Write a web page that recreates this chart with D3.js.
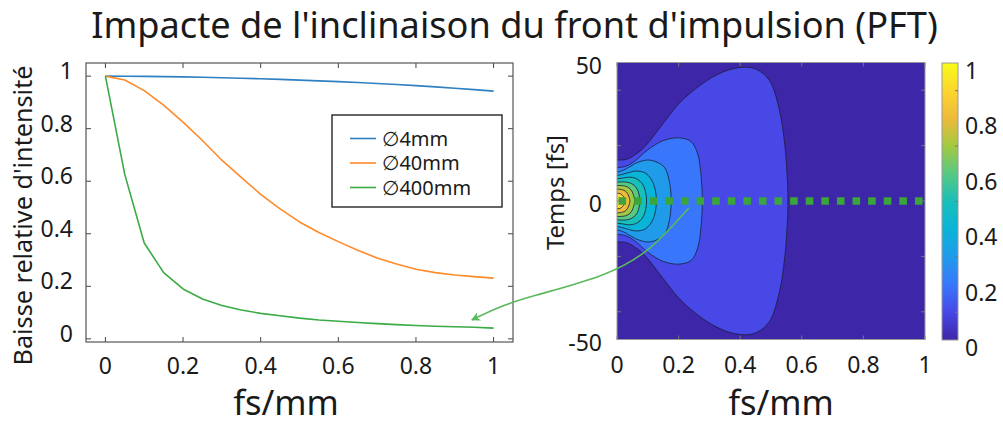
<!DOCTYPE html>
<html><head><meta charset="utf-8">
<script src="https://cdn.jsdelivr.net/npm/d3@7"></script>
<style>body{margin:0;background:#fff;overflow:hidden} text{font-family:"Noto Sans","DejaVu Sans",sans-serif;fill:#1a1a1a}</style>
</head><body><svg id="c" width="1003" height="423"></svg>
<script>
// ---------- data ----------
const xValues   = [0,0.05,0.1,0.15,0.2,0.25,0.3,0.35,0.4,0.45,0.5,0.55,0.6,0.65,0.7,0.75,0.8,0.85,0.9,0.95,1];
const series4mm   = [1,0.9998,0.999,0.998,0.997,0.9955,0.994,0.992,0.99,0.9875,0.985,0.982,0.979,0.9755,0.972,0.968,0.964,0.959,0.954,0.9485,0.943];
const series40mm  = [1,0.985,0.945,0.89,0.825,0.755,0.68,0.615,0.55,0.495,0.445,0.405,0.37,0.337,0.308,0.285,0.265,0.252,0.243,0.237,0.231];
const series400mm = [1,0.625,0.365,0.252,0.19,0.152,0.127,0.11,0.097,0.088,0.079,0.072,0.067,0.062,0.058,0.054,0.051,0.048,0.046,0.044,0.041];
const seriesNames  = ["\u22054mm","\u220540mm","\u2205400mm"];
const seriesColors = ["#2f7fc1","#ff8a2a","#3aab45"];
const xTicks = [0,0.2,0.4,0.6,0.8,1];
const yTicksLeft = [0,0.2,0.4,0.6,0.8,1];
const tTickLabels = [-50,0,50];
const tTickMarks = [-40,-20,0,20,40];
const cbTicks = [0,0.2,0.4,0.6,0.8,1];
const cbTickMarks = [0.1,0.3,0.5,0.7,0.9];
// contour outlines (upper half, symmetric in time): [fs/mm, fs]
const contourLevels = [0.1,0.2,0.3,0.4,0.5,0.6,0.7,0.8,0.9];
const outline01 = [[0,14.8],[0.03,15],[0.06,16.8],[0.09,19.6],[0.15,28],[0.2,35],[0.255,40.5],[0.31,44.7],[0.365,47.4],[0.42,48.3],[0.455,47.4],[0.495,43.5],[0.527,33],[0.545,20],[0.553,8],[0.555,0]];
const outline02 = [[0,12],[0.03,12.6],[0.06,14.6],[0.1,18.5],[0.15,21.8],[0.2,22.8],[0.24,21.5],[0.262,17],[0.273,9],[0.277,0]];
const outline03 = [[0,10.4],[0.03,11.6],[0.06,13.6],[0.1,14.8],[0.13,14],[0.155,12],[0.17,7],[0.176,0]];
const outline04 = [[0,9.2],[0.03,10],[0.06,10.8],[0.09,10.2],[0.11,8],[0.122,5],[0.128,0]];
const outline05 = [[0,8],[0.02,8.3],[0.04,8.6],[0.06,8.2],[0.075,7.1],[0.088,5],[0.096,0]];
const outline06 = [[0,6.8],[0.02,6.9],[0.04,6.6],[0.055,5.7],[0.066,4.2],[0.074,0]];
const outline07 = [[0,5.6],[0.02,5.5],[0.035,5],[0.048,3.6],[0.057,0]];
const outline08 = [[0,4.3],[0.015,4.1],[0.03,3.3],[0.042,0]];
const outline09 = [[0,2.8],[0.013,2.5],[0.027,0]];
const outlines = [outline01,outline02,outline03,outline04,outline05,outline06,outline07,outline08,outline09];
const parulaStops = ["#3e26a8","#4748e6","#3877fc","#209bea","#0ab3d8","#19bfb9","#57c982","#a3c942","#edba3b","#fcd62e","#f9fb15"];
// arrow control points: plot ("R" right / "L" left) + data coords
const arrowAnchors = [["R",0.233,-2.5],["R",0.11,-18],["R",-0.03,-27],["L",1.09,0.16],["L",1.01,0.12],["L",0.944,0.072]];
const sliceLine = [[0.005,0],[1,0]];

// ---------- drawing ----------
const svg = d3.select("#c");
const defs = svg.append("defs");
const parula = d3.scaleLinear().domain(d3.range(parulaStops.length).map(i=>i/(parulaStops.length-1))).range(parulaStops).interpolate(d3.interpolateRgb);
const fmt = v => String(+v.toFixed(2));

function fit(sel, target){ const w = sel.node().getComputedTextLength(); const fs = parseFloat(sel.attr("font-size")); sel.attr("font-size", fs*target/w); }

// title
const title = svg.append("text").attr("x",514.5).attr("y",38).attr("text-anchor","middle").attr("font-size",34)
  .text("Impacte de l'inclinaison du front d'impulsion (PFT)");
fit(title, 847);

// ===== left plot =====
const L = {x0:86,x1:513,y0:63,y1:342};
const xL = d3.scaleLinear().domain([-0.05,1.05]).range([L.x0,L.x1]);
const yL = d3.scaleLinear().domain([-0.012,1.05]).range([L.y1,L.y0]);
const gL = svg.append("g");
const tickCol = "#444";
xTicks.forEach(v=>{
  gL.append("line").attr("x1",xL(v)).attr("x2",xL(v)).attr("y1",L.y1).attr("y2",L.y1-5).attr("stroke",tickCol);
  gL.append("line").attr("x1",xL(v)).attr("x2",xL(v)).attr("y1",L.y0).attr("y2",L.y0+5).attr("stroke",tickCol);
  gL.append("text").attr("x",xL(v)).attr("y",373.5).attr("text-anchor","middle").attr("font-size",23).text(fmt(v));
});
yTicksLeft.forEach(v=>{
  gL.append("line").attr("x1",L.x0).attr("x2",L.x0+5).attr("y1",yL(v)).attr("y2",yL(v)).attr("stroke",tickCol);
  gL.append("line").attr("x1",L.x1).attr("x2",L.x1-5).attr("y1",yL(v)).attr("y2",yL(v)).attr("stroke",tickCol);
  gL.append("text").attr("x",73).attr("y",yL(v)-5).attr("dy","0.35em").attr("text-anchor","end").attr("font-size",23).text(fmt(v));
});
gL.append("rect").attr("x",L.x0).attr("y",L.y0).attr("width",L.x1-L.x0).attr("height",L.y1-L.y0).attr("fill","none").attr("stroke","#555").attr("stroke-width",1.2);
const lineL = d3.line().x((d,i)=>xL(xValues[i])).y(d=>yL(d));
[series4mm,series40mm,series400mm].forEach((s,k)=>{
  gL.append("path").attr("d",lineL(s)).attr("fill","none").attr("stroke",seriesColors[k]).attr("stroke-width",1.6).attr("stroke-linejoin","round");
});
// legend
const lg = gL.append("g");
lg.append("rect").attr("x",332).attr("y",115).attr("width",170).attr("height",92).attr("fill","#fff").attr("stroke","#333").attr("stroke-width",1.5);
seriesNames.forEach((n,k)=>{
  const yy = 138.5 + k*24.5;
  lg.append("line").attr("x1",350).attr("x2",376).attr("y1",yy).attr("y2",yy).attr("stroke",seriesColors[k]).attr("stroke-width",1.6);
  lg.append("text").attr("x",382).attr("y",yy+7.3).attr("font-family","'DejaVu Sans', sans-serif").attr("font-size",20).text(n);
});
const axFont = "Inter, 'Noto Sans', sans-serif";
gL.append("text").attr("x",286).attr("y",414.5).attr("text-anchor","middle").attr("font-family",axFont).attr("font-size",34.5).text("fs/mm");
gL.append("text").attr("x",781).attr("y",414.5).attr("text-anchor","middle").attr("font-family",axFont).attr("font-size",34.5).text("fs/mm");
const ylabL = gL.append("text").attr("transform","translate(32,215.5) rotate(-90)").attr("text-anchor","middle").attr("font-size",20).text("Baisse relative d'intensité");
fit(ylabL,300);

// ===== right plot =====
const R = {x0:617,x1:925,y0:62.5,y1:339.5};
const xR = d3.scaleLinear().domain([0,1]).range([R.x0,R.x1]);
const tR = d3.scaleLinear().domain([-50,50]).range([R.y1,R.y0]);
const gR = svg.append("g");
defs.append("clipPath").attr("id","clipR").append("rect").attr("x",R.x0).attr("y",R.y0).attr("width",R.x1-R.x0).attr("height",R.y1-R.y0);
const gC = gR.append("g").attr("clip-path","url(#clipR)");
gC.append("rect").attr("x",R.x0).attr("y",R.y0).attr("width",R.x1-R.x0).attr("height",R.y1-R.y0).attr("fill",parula(0));
const closedLine = d3.line().x(d=>xR(d[0])).y(d=>tR(d[1])).curve(d3.curveCatmullRomClosed.alpha(0.5));
outlines.forEach((o,k)=>{
  const lower = o.slice(0,-1).reverse().map(d=>[d[0],-d[1]]);
  const pts = [[-0.02,-o[0][1]],[-0.02,o[0][1]]].concat(o).concat(lower);
  gC.append("path").attr("d",closedLine(pts)).attr("fill",parula(contourLevels[k])).attr("stroke","#1d1d3a").attr("stroke-width",0.8);
});
// slice marker
gC.append("path").attr("d",d3.line().x(d=>xR(d[0])).y(d=>tR(d[1]))(sliceLine))
  .attr("stroke","#3aa53a").attr("stroke-width",7.5).attr("stroke-dasharray","7.6,8").attr("fill","none");
// ticks
xTicks.forEach(v=>{
  gR.append("line").attr("x1",xR(v)).attr("x2",xR(v)).attr("y1",R.y1).attr("y2",R.y1-4).attr("stroke","#777");
  gR.append("line").attr("x1",xR(v)).attr("x2",xR(v)).attr("y1",R.y0).attr("y2",R.y0+4).attr("stroke","#777");
  gR.append("text").attr("x",xR(v)).attr("y",372.5).attr("text-anchor","middle").attr("font-size",23).text(fmt(v));
});
tTickMarks.forEach(v=>{
  gR.append("line").attr("x1",R.x0).attr("x2",R.x0+4).attr("y1",tR(v)).attr("y2",tR(v)).attr("stroke","#777");
  gR.append("line").attr("x1",R.x1).attr("x2",R.x1-4).attr("y1",tR(v)).attr("y2",tR(v)).attr("stroke","#777");
});
tTickLabels.forEach(v=>{
  gR.append("text").attr("x",602).attr("y",tR(v)+3).attr("dy","0.35em").attr("text-anchor","end").attr("font-size",23).text(fmt(v));
});
gR.append("rect").attr("x",R.x0).attr("y",R.y0).attr("width",R.x1-R.x0).attr("height",R.y1-R.y0).attr("fill","none").attr("stroke","#999").attr("stroke-width",1);
const ylabR = gR.append("text").attr("transform","translate(564,192.5) rotate(-90)").attr("text-anchor","middle").attr("font-size",20).text("Temps [fs]");
fit(ylabR,115);

// colorbar
const CB = {x0:942,x1:958,y0:63,y1:340};
const cS = d3.scaleLinear().domain([0,1]).range([CB.y1,CB.y0]);
const grad = defs.append("linearGradient").attr("id","parulaGrad").attr("x1",0).attr("y1",1).attr("x2",0).attr("y2",0);
parulaStops.forEach((c,i)=>grad.append("stop").attr("offset",i/(parulaStops.length-1)).attr("stop-color",c));
svg.append("rect").attr("x",CB.x0).attr("y",CB.y0).attr("width",CB.x1-CB.x0).attr("height",CB.y1-CB.y0).attr("fill","url(#parulaGrad)").attr("stroke","#999").attr("stroke-width",1);
cbTickMarks.forEach(v=>{
  svg.append("line").attr("x1",CB.x1).attr("x2",CB.x1-3).attr("y1",cS(v)).attr("y2",cS(v)).attr("stroke","#777");
});
cbTicks.forEach(v=>{
  svg.append("text").attr("x",965).attr("y",cS(v)+8).attr("dy","0.35em").attr("font-size",23).text(fmt(v));
});

// arrow
const arrowCol = "#5cb85c";
defs.append("marker").attr("id","ah").attr("viewBox","0 0 10 10").attr("refX",9).attr("refY",5)
  .attr("markerWidth",12).attr("markerHeight",9).attr("markerUnits","userSpaceOnUse").attr("orient","auto")
  .append("path").attr("d","M0,0 L10,5 L0,10 L3,5 Z").attr("fill",arrowCol);
const arrowPts = arrowAnchors.map(a=> a[0]==="R" ? [xR(a[1]),tR(a[2])] : [xL(a[1]),yL(a[2])]);
svg.append("path").attr("d",d3.line().curve(d3.curveBasis)(arrowPts))
  .attr("fill","none").attr("stroke",arrowCol).attr("stroke-width",1.6).attr("marker-end","url(#ah)");
</script></body></html>
